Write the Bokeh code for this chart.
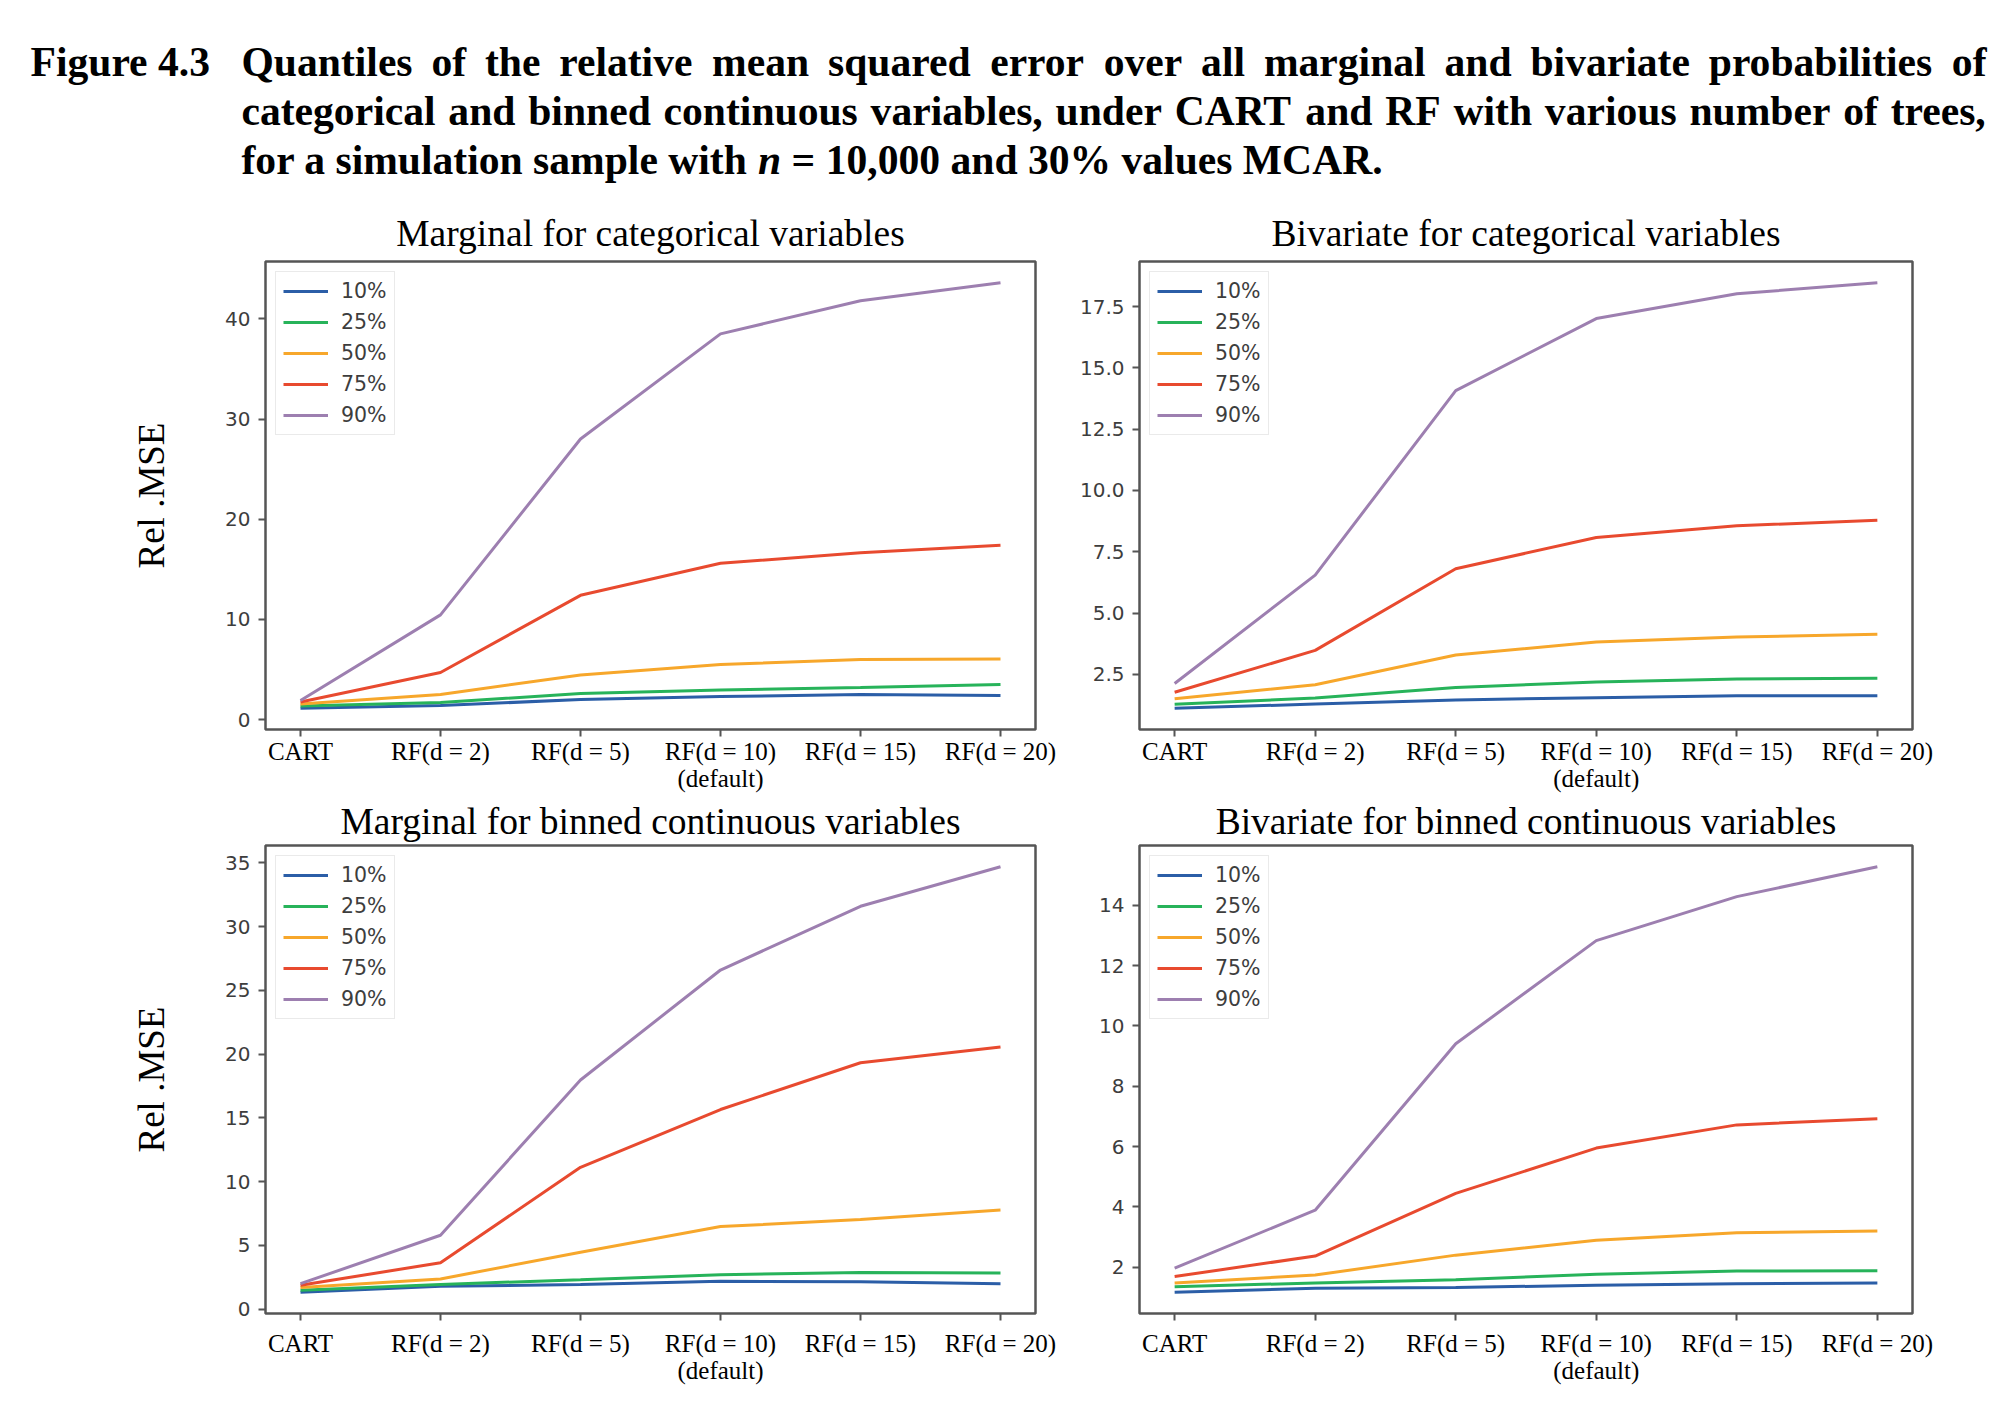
from bokeh.plotting import figure
from bokeh.layouts import column, row
from bokeh.models import Range1d, FixedTicker
from bokeh.core.properties import value
from bokeh.embed import file_html
from bokeh.resources import INLINE

# ---------------- data ----------------
categories = ["CART", "RF(d = 2)", "RF(d = 5)", "RF(d = 10)\n(default)", "RF(d = 15)", "RF(d = 20)"]
quantiles = ["10%", "25%", "50%", "75%", "90%"]
colors = ["#2b5ea7", "#27b35a", "#f7a72b", "#e84a2f", "#9d7fb0"]

marg_cat_q10 = [1.13, 1.40, 2.00, 2.30, 2.50, 2.40]
marg_cat_q25 = [1.35, 1.70, 2.60, 2.95, 3.20, 3.50]
marg_cat_q50 = [1.55, 2.50, 4.45, 5.50, 6.00, 6.05]
marg_cat_q75 = [1.75, 4.70, 12.40, 15.60, 16.65, 17.40]
marg_cat_q90 = [1.90, 10.45, 28.00, 38.50, 41.80, 43.60]

biv_cat_q10 = [1.12, 1.29, 1.46, 1.55, 1.63, 1.63]
biv_cat_q25 = [1.28, 1.54, 1.97, 2.19, 2.31, 2.34]
biv_cat_q50 = [1.51, 2.08, 3.29, 3.82, 4.02, 4.14]
biv_cat_q75 = [1.77, 3.48, 6.81, 8.08, 8.56, 8.79]
biv_cat_q90 = [2.13, 6.55, 14.07, 17.01, 18.02, 18.47]

marg_bin_q10 = [1.33, 1.79, 1.94, 2.19, 2.16, 2.00]
marg_bin_q25 = [1.48, 1.94, 2.31, 2.71, 2.87, 2.84]
marg_bin_q50 = [1.70, 2.37, 4.47, 6.48, 7.03, 7.77]
marg_bin_q75 = [1.88, 3.64, 11.13, 15.66, 19.33, 20.57]
marg_bin_q90 = [2.00, 5.80, 17.98, 26.60, 31.60, 34.70]

biv_bin_q10 = [1.17, 1.30, 1.33, 1.40, 1.45, 1.48]
biv_bin_q25 = [1.35, 1.48, 1.58, 1.77, 1.87, 1.88]
biv_bin_q50 = [1.48, 1.74, 2.40, 2.89, 3.14, 3.20]
biv_bin_q75 = [1.69, 2.37, 4.45, 5.95, 6.72, 6.92]
biv_bin_q90 = [1.97, 3.89, 9.41, 12.83, 14.29, 15.28]

yticks_marg_cat = [0, 10, 20, 30, 40]
yticks_biv_cat = [2.5, 5.0, 7.5, 10.0, 12.5, 15.0, 17.5]
yticks_marg_bin = [0, 5, 10, 15, 20, 25, 30, 35]
yticks_biv_bin = [2, 4, 6, 8, 10, 12, 14]

caption_label = "Figure 4.3"
caption_lines = [
    "Quantiles of the relative mean squared error over all marginal and bivariate probabilities of",
    "categorical and binned continuous variables, under CART and RF with various number of trees,",
]
caption_last = ["for a simulation sample with", "n", "= 10,000 and 30% values MCAR."]

# ---------------- header (caption) ----------------
FS = 41.6
W = {' ': 250, ',': 250, '.': 250, '%': 1000, '=': 570, 'Q': 778, 'C': 722, 'A': 722,
     'R': 722, 'T': 667, 'F': 611, 'M': 944, 'a': 500, 'b': 556, 'c': 444, 'd': 556,
     'e': 444, 'f': 333, 'g': 500, 'h': 556, 'i': 278, 'l': 278, 'm': 833, 'n': 556,
     'o': 500, 'p': 556, 'q': 556, 'r': 444, 's': 389, 't': 333, 'u': 556, 'v': 500,
     'w': 722, 'y': 500}


def tw(s):
    return sum(W.get(ch, 500) for ch in s) * FS / 1000.0


HEADER_H = 195
header = figure(width=1989, height=HEADER_H, x_range=Range1d(0, 1989), y_range=Range1d(HEADER_H, 0),
                x_axis_location=None, y_axis_location=None, output_backend="svg",
                toolbar_location=None, min_border=0)
header.grid.visible = False
header.outline_line_color = None

X0, X1 = 241, 1986
line_y = [61, 110, 159]
bx, by, bt = [30], [line_y[0]], [caption_label]
for li, line in enumerate(caption_lines):
    words = line.split(" ")
    nat = sum(tw(w) for w in words)
    gap = (X1 - X0 - nat) / (len(words) - 1)
    x = X0
    for w in words:
        bx.append(x)
        by.append(line_y[li])
        bt.append(w)
        x += tw(w) + gap
sp = tw(" ")
x = X0
bx.append(x); by.append(line_y[2]); bt.append(caption_last[0])
x += tw(caption_last[0]) + sp
ix, iy, it = [x], [line_y[2]], [caption_last[1]]
x += tw(caption_last[1]) + sp
bx.append(x); by.append(line_y[2]); bt.append(caption_last[2])

header.text(x=bx, y=by, text=bt, text_font=value("Liberation Serif"), text_font_style="bold",
            text_font_size=f"{FS}px", text_baseline="middle", text_align="left", text_color="black")
header.text(x=ix, y=iy, text=it, text_font=value("Liberation Serif"), text_font_style="bold italic",
            text_font_size=f"{FS}px", text_baseline="middle", text_align="left", text_color="black")


# ---------------- panels ----------------
def make_panel(title, series, yticks, fmt_decimal, width, height, bl, br, bt_, bb, ylabel,
               title_standoff, xlabel_standoff):
    lo = min(min(s) for s in series)
    hi = max(max(s) for s in series)
    pad = 0.05 * (hi - lo)
    p = figure(width=width, height=height, x_range=Range1d(-0.25, len(categories) - 0.75),
               y_range=Range1d(lo - pad, hi + pad), output_backend="svg", toolbar_location=None,
               min_border_left=bl, min_border_right=br, min_border_top=bt_, min_border_bottom=bb,
               title=title)
    p.title.text_font = "Liberation Serif"
    p.title.text_font_size = "37.5px"
    p.title.text_font_style = "normal"
    p.title.align = "center"
    p.title.standoff = title_standoff
    p.title.text_color = "black"
    p.grid.visible = False
    p.outline_line_color = "#555555"
    p.outline_line_width = 2.5
    p.background_fill_color = "white"
    p.border_fill_color = "white"

    xs = list(range(len(categories)))
    for q, s, c in zip(quantiles, series, colors):
        p.line(xs, s, line_color=c, line_width=3, legend_label=q)

    for ax in (p.xaxis[0], p.yaxis[0]):
        ax.axis_line_color = None
        ax.major_tick_line_color = "#555555"
        ax.major_tick_line_width = 2
        ax.major_tick_out = 7
        ax.major_tick_in = 0
        ax.minor_tick_line_color = None

    p.xaxis.ticker = FixedTicker(ticks=xs)
    p.xaxis.major_label_overrides = {i: c for i, c in enumerate(categories)}
    p.xaxis.major_label_text_font = "Liberation Serif"
    p.xaxis.major_label_text_font_size = "25px"
    p.xaxis.major_label_text_line_height = 1.0
    p.xaxis.major_label_text_color = "black"
    p.xaxis.major_label_standoff = xlabel_standoff

    p.yaxis.ticker = FixedTicker(ticks=yticks)
    if fmt_decimal:
        p.yaxis.major_label_overrides = {t: f"{t:.1f}" for t in yticks}
    p.yaxis.major_label_text_font = "DejaVu Sans"
    p.yaxis.major_label_text_font_size = "20px"
    p.yaxis.major_label_text_color = "#3d3d3d"
    p.yaxis.major_label_standoff = 8
    if ylabel:
        p.yaxis.axis_label = ylabel
        p.yaxis.axis_label_text_font = "Liberation Serif"
        p.yaxis.axis_label_text_font_size = "37px"
        p.yaxis.axis_label_text_font_style = "normal"
        p.yaxis.axis_label_text_color = "black"
        p.yaxis.axis_label_standoff = 50

    lg = p.legend[0]
    lg.location = "top_left"
    lg.margin = 10
    lg.padding = 7
    lg.spacing = 7
    lg.glyph_width = 45
    lg.glyph_height = 20
    lg.label_height = 20
    lg.label_standoff = 13
    lg.label_text_font = "DejaVu Sans"
    lg.label_text_font_size = "20.5px"
    lg.label_text_color = "#3d3d3d"
    lg.border_line_color = "#d5d5d5"
    lg.border_line_width = 1.5
    lg.background_fill_alpha = 0.85
    return p


LW, RW = 1066, 923
TOP_H, BOT_H = 599, 632

tl = make_panel("Marginal for categorical variables",
                [marg_cat_q10, marg_cat_q25, marg_cat_q50, marg_cat_q75, marg_cat_q90],
                yticks_marg_cat, False, LW, TOP_H, 265, 31, 66, 62, "Rel .MSE", 15, 1)
tr = make_panel("Bivariate for categorical variables",
                [biv_cat_q10, biv_cat_q25, biv_cat_q50, biv_cat_q75, biv_cat_q90],
                yticks_biv_cat, True, RW, TOP_H, 73, 77, 66, 62, None, 15, 1)
bl = make_panel("Marginal for binned continuous variables",
                [marg_bin_q10, marg_bin_q25, marg_bin_q50, marg_bin_q75, marg_bin_q90],
                yticks_marg_bin, False, LW, BOT_H, 265, 31, 49, 113, "Rel .MSE", 7.5, 9)
br = make_panel("Bivariate for binned continuous variables",
                [biv_bin_q10, biv_bin_q25, biv_bin_q50, biv_bin_q75, biv_bin_q90],
                yticks_biv_bin, False, RW, BOT_H, 73, 77, 49, 113, None, 7.5, 9)

layout = column(header, row(tl, tr, spacing=0), row(bl, br, spacing=0), spacing=0)

open("out.html", "w").write(file_html(layout, INLINE))
